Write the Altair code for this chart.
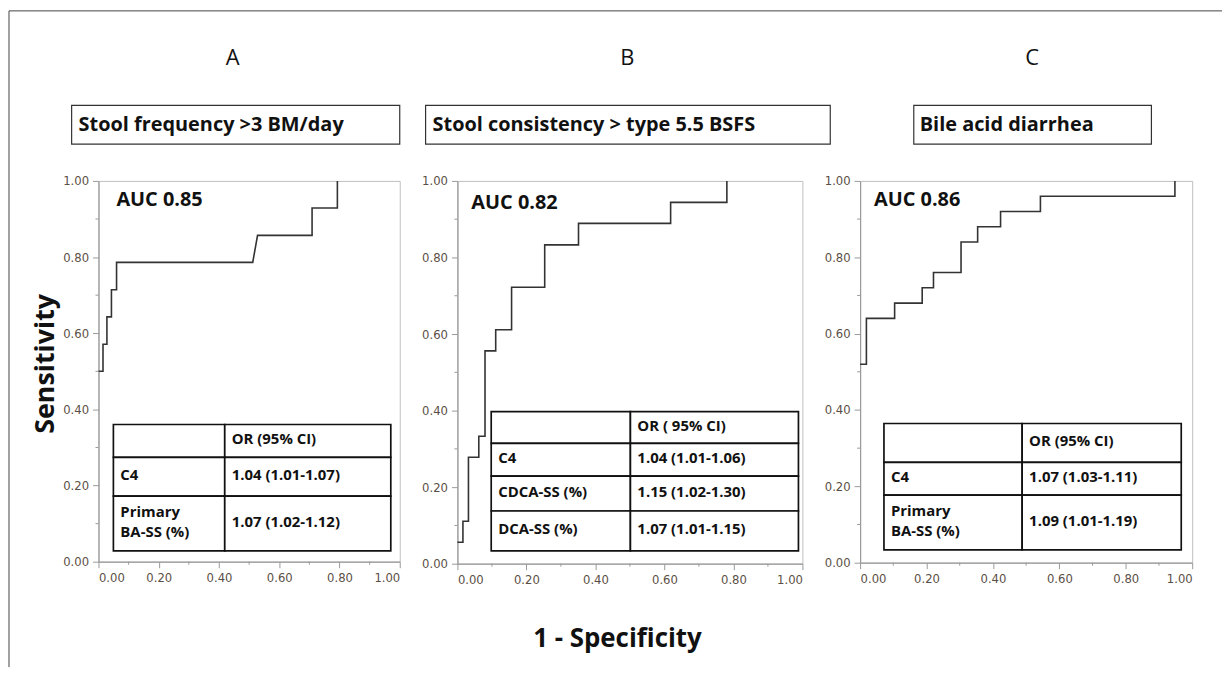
import altair as alt
import pandas as pd

# ---------------- data ----------------
panel_letters = ["A", "B", "C"]
panel_titles = ["Stool frequency >3 BM/day",
                "Stool consistency > type 5.5 BSFS",
                "Bile acid diarrhea"]
auc_labels = ["AUC 0.85", "AUC 0.82", "AUC 0.86"]

# ROC vertices (1 - specificity, sensitivity)
fpr_a = [0.0, 0.015, 0.015, 0.028, 0.028, 0.043, 0.043, 0.060, 0.060, 0.512, 0.528, 0.709, 0.709, 0.793, 0.793]
tpr_a = [0.500, 0.500, 0.571, 0.571, 0.643, 0.643, 0.714, 0.714, 0.786, 0.786, 0.857, 0.857, 0.929, 0.929, 1.0]

fpr_b = [0.0, 0.016, 0.016, 0.032, 0.032, 0.062, 0.062, 0.080, 0.080, 0.111, 0.111, 0.157, 0.157,
         0.253, 0.253, 0.351, 0.351, 0.618, 0.618, 0.781, 0.781]
tpr_b = [0.056, 0.056, 0.111, 0.111, 0.278, 0.278, 0.333, 0.333, 0.556, 0.556, 0.611, 0.611, 0.722,
         0.722, 0.833, 0.833, 0.889, 0.889, 0.944, 0.944, 1.0]

fpr_c = [0.0, 0.019, 0.019, 0.104, 0.104, 0.187, 0.187, 0.221, 0.221, 0.304, 0.304, 0.354, 0.354,
         0.423, 0.423, 0.543, 0.543, 0.948, 0.948]
tpr_c = [0.52, 0.52, 0.64, 0.64, 0.68, 0.68, 0.72, 0.72, 0.76, 0.76, 0.84, 0.84, 0.88, 0.88, 0.92,
         0.92, 0.96, 0.96, 1.0]

table_header = ["OR (95% CI)", "OR ( 95% CI)", "OR (95% CI)"]
table_rows_a = ["C4", "Primary\nBA-SS (%)"]
table_vals_a = ["1.04 (1.01-1.07)", "1.07 (1.02-1.12)"]
table_rows_b = ["C4", "CDCA-SS (%)", "DCA-SS (%)"]
table_vals_b = ["1.04 (1.01-1.06)", "1.15 (1.02-1.30)", "1.07 (1.01-1.15)"]
table_rows_c = ["C4", "Primary\nBA-SS (%)"]
table_vals_c = ["1.07 (1.03-1.11)", "1.09 (1.01-1.19)"]

axis_ticks = [0.0, 0.2, 0.4, 0.6, 0.8, 1.0]
minor_ticks = [0.1, 0.3, 0.5, 0.7, 0.9]

x_title = "1 - Specificity"
y_title = "Sensitivity"

# ---------------- layout (pixels, relative to each plot area) ----------------
layout = [
    dict(w=303, h=383, cols=[15, 127, 294], rows=[245, 278, 317, 372],
         box=(-27, 303), box_tx=-20, letter_x=135, auc=(18, 19)),
    dict(w=347, h=385, cols=[34, 174, 343], rows=[232, 264, 297, 332, 372],
         box=(-32, 375), box_tx=-25, letter_x=171, auc=(14, 22)),
    dict(w=334, h=384, cols=[24, 163, 323], rows=[244, 283, 316, 371],
         box=(54, 293), box_tx=60, letter_x=173, auc=(14, 19)),
]
BOX_Y = (-76, -37)
LETTER_Y = -124
LINE_H = 20
FONT = "Open Sans"
TICK_FONT = "'Liberation Sans Narrow', 'DejaVu Sans Condensed', 'Roboto Condensed', sans-serif"


def panel(idx, fpr, tpr, rows, vals):
    L = layout[idx]
    w, h = L["w"], L["h"]
    xs = alt.Scale(domain=[0, 1], nice=False, zero=False)
    ys = alt.Scale(domain=[0, 1], nice=False, zero=False)
    xax = alt.Axis(values=axis_ticks, format=".2f", title=None, grid=False)
    yax = alt.Axis(values=axis_ticks, format=".2f", title=None, grid=False)

    def X(f):
        return alt.X(f, scale=xs, axis=xax)

    def Y(f):
        return alt.Y(f, scale=ys, axis=yax)

    curve_df = pd.DataFrame({"x": fpr, "y": tpr, "i": list(range(len(fpr)))})
    curve = alt.Chart(curve_df).mark_line(color="#333333", strokeWidth=1.6).encode(
        x=X("x:Q"), y=Y("y:Q"), order="i:Q")

    minor_df = pd.DataFrame({"x": minor_ticks, "y": minor_ticks})
    minor_x = alt.Chart(minor_df).mark_rule(color="#9a9a9a", strokeWidth=1).encode(
        x=X("x:Q"), y=alt.value(h), y2=alt.value(h + 3))
    minor_y = alt.Chart(minor_df).mark_rule(color="#9a9a9a", strokeWidth=1).encode(
        y=Y("y:Q"), x=alt.value(0), x2=alt.value(-3))

    # table cells in data coordinates
    cols, rws = L["cols"], L["rows"]
    cell_recs, text_recs = [], []
    texts = [["", table_header[idx]]] + [[r, v] for r, v in zip(rows, vals)]
    for i in range(len(rws) - 1):
        for j in range(2):
            t = texts[i][j]
            n_lines = t.count("\n") + 1
            cy = (rws[i] + rws[i + 1]) / 2 - 1.5 - (n_lines - 1) * LINE_H / 2
            cell_recs.append(dict(x0=cols[j] / w, x1=cols[j + 1] / w,
                                  y0=1 - rws[i] / h, y1=1 - rws[i + 1] / h))
            text_recs.append(dict(tx=(cols[j] + 7) / w, ty=1 - cy / h, t=t))
    cells = alt.Chart(pd.DataFrame(cell_recs)).mark_rect(
        fill="white", stroke="#111111", strokeWidth=1.7).encode(
        x=X("x0:Q"), x2="x1:Q", y=Y("y0:Q"), y2="y1:Q")
    ctext = alt.Chart(pd.DataFrame(text_recs)).mark_text(
        align="left", baseline="middle", font=FONT, fontSize=15, fontWeight="bold",
        color="#111111", lineBreak="\n", lineHeight=LINE_H).encode(
        x=X("tx:Q"), y=Y("ty:Q"), text="t:N")

    auc = alt.Chart(pd.DataFrame({"t": [auc_labels[idx]]})).mark_text(
        align="left", baseline="middle", font=FONT, fontSize=20, fontWeight="bold",
        color="#111111").encode(x=alt.value(L["auc"][0]), y=alt.value(L["auc"][1]), text="t:N")

    letter = alt.Chart(pd.DataFrame({"t": [panel_letters[idx]]})).mark_text(
        align="center", baseline="middle", font=FONT, fontSize=22, color="#111111").encode(
        x=alt.value(L["letter_x"]), y=alt.value(LETTER_Y), text="t:N")

    box = alt.Chart(pd.DataFrame({"t": [panel_titles[idx]]})).mark_rect(
        fill="white", stroke="#333333", strokeWidth=1.2).encode(
        x=alt.value(L["box"][0]), x2=alt.value(L["box"][1]),
        y=alt.value(BOX_Y[0]), y2=alt.value(BOX_Y[1]))
    box_text = alt.Chart(pd.DataFrame({"t": [panel_titles[idx]]})).mark_text(
        align="left", baseline="middle", font=FONT, fontSize=20, fontWeight="bold",
        color="#111111").encode(
        x=alt.value(L["box_tx"]), y=alt.value((BOX_Y[0] + BOX_Y[1]) / 2), text="t:N")

    layers = [curve, minor_x, minor_y, cells, ctext, auc, letter, box, box_text]

    if idx == 0:
        frame_df = pd.DataFrame({"t": ["frame"]})
        top_line = alt.Chart(frame_df).mark_rule(color="#444444", strokeWidth=1).encode(
            x=alt.value(-90), x2=alt.value(1130), y=alt.value(-171))
        left_line = alt.Chart(frame_df).mark_rule(color="#444444", strokeWidth=1).encode(
            x=alt.value(-90), y=alt.value(-171), y2=alt.value(489))
        ytitle = alt.Chart(pd.DataFrame({"t": [y_title]})).mark_text(
            align="center", baseline="middle", angle=270, font=FONT, fontSize=27,
            fontWeight="bold", color="#111111").encode(
            x=alt.value(-53), y=alt.value(184), text="t:N")
        layers += [top_line, left_line, ytitle]
    if idx == 1:
        xtitle = alt.Chart(pd.DataFrame({"t": [x_title]})).mark_text(
            align="center", baseline="middle", font=FONT, fontSize=26,
            fontWeight="bold", color="#111111").encode(
            x=alt.value(161), y=alt.value(461), text="t:N")
        layers += [xtitle]

    return alt.layer(*layers).properties(width=w, height=h)


pa = panel(0, fpr_a, tpr_a, table_rows_a, table_vals_a)
pb = panel(1, fpr_b, tpr_b, table_rows_b, table_vals_b)
pc = panel(2, fpr_c, tpr_c, table_rows_c, table_vals_c)

chart = alt.hconcat(pa, pb, pc, spacing=58, bounds="flush").properties(
    padding=0, background="white"
).configure_view(stroke="#c0c0c0", strokeWidth=1).configure_axis(
    labelFont=TICK_FONT, labelFontSize=13, labelColor="#5a4e44",
    domainColor="#9a9a9a", tickColor="#9a9a9a", tickSize=6, labelPadding=4,
    domainWidth=1.2, tickWidth=1
)

chart.save("out.html", embed_options={"renderer": "svg", "actions": False})
